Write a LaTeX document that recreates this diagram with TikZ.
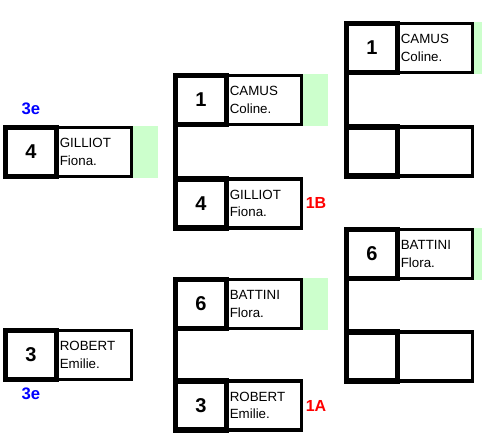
\documentclass[tikz,border=0pt]{standalone}
\usepackage{fontspec}
\setmainfont{Liberation Sans}
\usetikzlibrary{positioning}
\definecolor{wingreen}{RGB}{204,255,204}
\tikzset{
  seedbox/.style={draw, line width=4.2pt, minimum width=38.25pt, minimum height=36.75pt, inner sep=0pt, outer sep=0pt, font=\fontsize{15}{18}\selectfont\bfseries},
  namebox/.style={draw, line width=2.5pt, minimum width=56pt, minimum height=36.75pt, inner xsep=2pt, inner ysep=0pt, outer sep=0pt, anchor=west, text width=51pt, align=left, font=\fontsize{10}{13}\selectfont},
  winbar/.style={fill=wingreen, minimum width=18.75pt, minimum height=38.5pt, inner sep=0pt, outer sep=0pt, anchor=west},
  linkline/.style={line width=4.2pt},
  rank/.style={font=\fontsize{12.5}{12.5}\selectfont\bfseries, text=blue},
  pool/.style={font=\fontsize{12}{12}\selectfont\bfseries, text=red}
}

\begin{document}
\begin{tikzpicture}[x=0.75pt, y=-0.75pt]
  \clip (0,0) rectangle (482,434);
  % left column
  \node[seedbox] (a1) at (31,152) {4};
  \node[namebox] (a1n) at (a1.east) {GILLIOT\\Fiona.};
  \node[winbar] (a1w) at ([xshift=1.25pt]a1n.east) {};
  \node[seedbox] (a2) at (31,355) {3};
  \node[namebox] (a2n) at (a2.east) {ROBERT\\Emilie.};
  \node[rank] (a1r) at (31,109) {3e};
  \node[rank] (a2r) at (31,394) {3e};

  % middle column
  \node[seedbox] (b1) at (201,100) {1};
  \node[seedbox] (b2) at (201,203.5) {4};
  \node[seedbox] (b3) at (201,304) {6};
  \node[seedbox] (b4) at (201,405.5) {3};
  \node[namebox] (b1n) at (b1.east) {CAMUS\\Coline.};
  \node[namebox] (b2n) at (b2.east) {GILLIOT\\Fiona.};
  \node[namebox] (b3n) at (b3.east) {BATTINI\\Flora.};
  \node[namebox] (b4n) at (b4.east) {ROBERT\\Emilie.};
  \node[winbar] (b1w) at ([xshift=1.25pt]b1n.east) {};
  \node[winbar] (b3w) at ([xshift=1.25pt]b3n.east) {};
  \draw[linkline] (b1.south west) -- (b2.north west);
  \draw[linkline] (b3.south west) -- (b4.north west);
  \node[pool] (b2p) at (316,203) {1B};
  \node[pool] (b4p) at (316,406) {1A};

  % right column
  \node[seedbox] (c1) at (372,48) {1};
  \node[seedbox] (c2) at (372,151.5) {};
  \node[seedbox] (c3) at (372,254) {6};
  \node[seedbox] (c4) at (372,356.5) {};
  \node[namebox] (c1n) at (c1.east) {CAMUS\\Coline.};
  \node[namebox] (c2n) at (c2.east) {};
  \node[namebox] (c3n) at (c3.east) {BATTINI\\Flora.};
  \node[namebox] (c4n) at (c4.east) {};
  \node[winbar] (c1w) at ([xshift=1.25pt]c1n.east) {};
  \node[winbar] (c3w) at ([xshift=1.25pt]c3n.east) {};
  \draw[linkline] (c1.south west) -- (c2.north west);
  \draw[linkline] (c3.south west) -- (c4.north west);
\end{tikzpicture}
\end{document}
